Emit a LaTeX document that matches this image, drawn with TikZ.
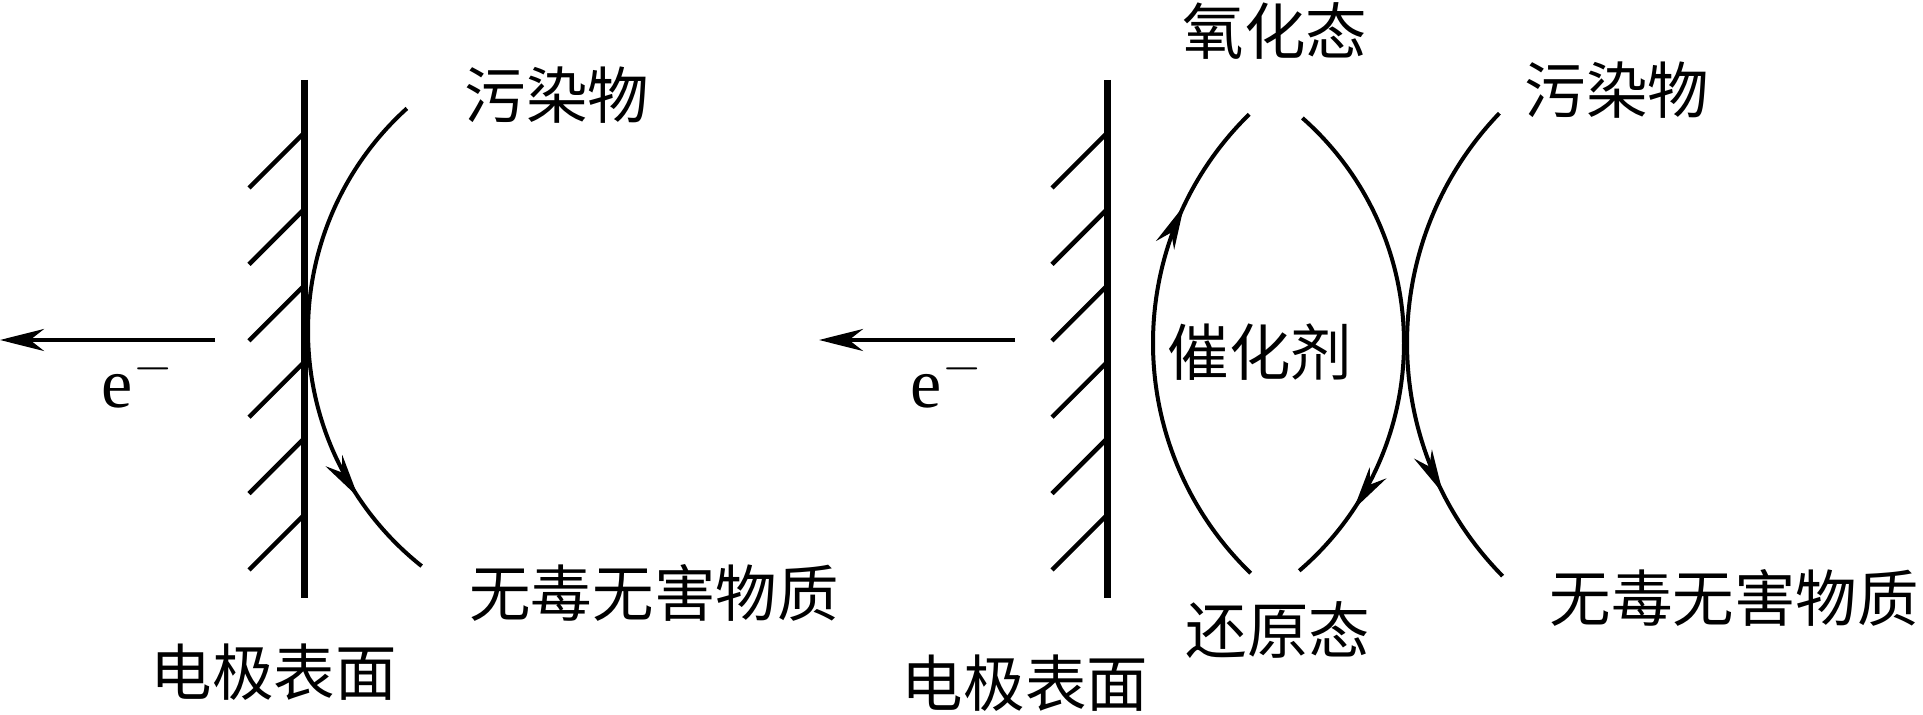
\documentclass[tikz,border=0pt]{standalone}
\usepackage{fontspec}
\setmainfont{Liberation Serif}
\newfontfamily\cjk{Noto Sans CJK SC}
\usetikzlibrary{arrows.meta, decorations.markings}

\begin{document}
\begin{tikzpicture}[x=0.1mm, y=0.1mm,
            electrode/.style={line width=0.7mm},
            hatch/.style={line width=0.45mm},
            eflow/.style={line width=0.42mm, -{Stealth[length=4.4mm, width=2.2mm, inset=1.4mm]}},
            flow/.style={line width=0.4mm, postaction={decorate, decoration={markings,
                mark=at position #1 with {\arrow{Stealth[length=4.4mm, width=2mm, inset=1.4mm]}}}}},
            lbl/.style={font=\cjk\fontsize{17.5pt}{20pt}\selectfont, inner sep=0pt},
            elbl/.style={font=\fontsize{20pt}{22pt}\selectfont, inner sep=0pt}
        ]
            \useasboundingbox (0,0) rectangle (1923,715);

            % Electrode surfaces with hatching
            \foreach \ex in {304,1107} {
                \draw[electrode] (\ex,635) -- (\ex,117);
                \foreach \i in {0,...,5}
                    \draw[hatch] (\ex-55,145+76.4*\i) -- ++(55,55);
            }

            % Left: direct oxidation
            \coordinate (eLs) at (215,375);
            \coordinate (eLe) at (0,375);
            \draw[eflow] (eLs) -- (eLe);
            \node[elbl] (emL) at (138,335) {e$^{-}$};

            \node[lbl] (pollL) at (557,620) {污染物};
            \node[lbl] (safeL) at (654,122) {无毒无害物质};
            \node[lbl] (surfL) at (274,43) {电极表面};
            \draw[flow=0.82] ([shift={(132.1:300)}]608,384) arc[start angle=132.1, end angle=231.6, radius=300];

            % Right: catalysed oxidation
            \coordinate (eRs) at (1015,375);
            \coordinate (eRe) at (819,375);
            \draw[eflow] (eRs) -- (eRe);
            \node[elbl] (emR) at (947,335) {e$^{-}$};

            \node[lbl] (oxid) at (1275,684) {氧化态};
            \node[lbl] (cat) at (1260,363) {催化剂};
            \node[lbl] (red) at (1278,85) {还原态};
            \node[lbl] (pollR) at (1617,625) {污染物};
            \node[lbl] (safeR) at (1734,117) {无毒无害物质};
            \node[lbl] (surfR) at (1025,32) {电极表面};

            % Catalyst cycle
            \draw[flow=0.78] ([shift={(226:320)}]1473,372) arc[start angle=226, end angle=134.4, radius=320];
            \draw[flow=0.84] ([shift={(48.6:300)}]1104,372) arc[start angle=48.6, end angle=-49.4, radius=300];
            % Pollutant path
            \draw[flow=0.80] ([shift={(136.2:332)}]1739,372) arc[start angle=136.2, end angle=224.6, radius=332];
        \end{tikzpicture}
\end{document}
